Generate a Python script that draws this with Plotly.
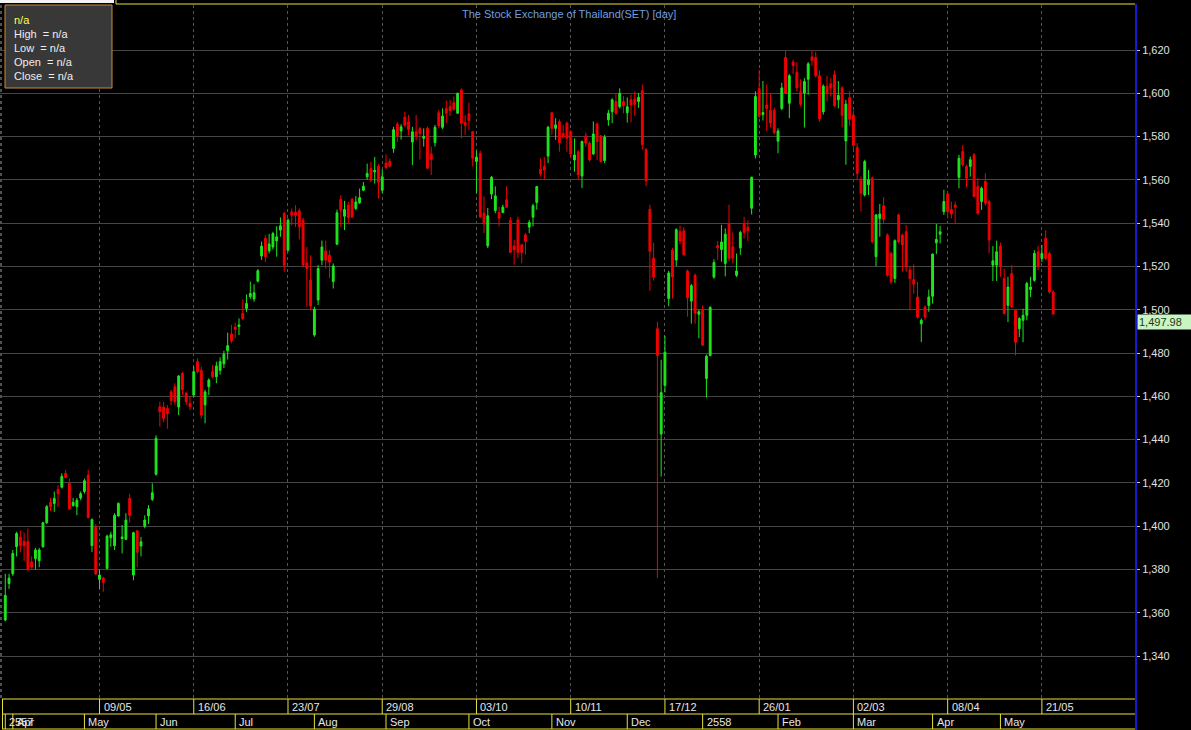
import plotly.graph_objects as go

# ---------------- data ----------------
opens = [1356.6, 1373.5, 1378, 1390.5, 1395, 1393, 1393, 1383.5, 1385, 1384,
         1390.5, 1401.6, 1411, 1410.5, 1417, 1418, 1424.4, 1419.8, 1409.5, 1409,
         1413, 1416, 1423.6, 1391, 1399.7, 1375.4, 1376, 1380.5, 1394.6, 1391,
         1404.7, 1394.3, 1393.9, 1412.8, 1377.4, 1397.9, 1390.8, 1400, 1404.7, 1412.4,
         1424, 1455.2, 1455, 1454.4, 1462, 1464.4, 1455, 1470.6, 1461.4, 1456.7,
         1460.6, 1476, 1472, 1456, 1464.4, 1471.4, 1469, 1472, 1475, 1481,
         1488.8, 1492, 1492.2, 1498.3, 1500.6, 1506, 1505, 1513.2, 1524.8, 1533,
         1527.2, 1529, 1531.8, 1536.8, 1544.5, 1527.5, 1545.2, 1545, 1545.7, 1541.4,
         1521.7, 1513.7, 1488.3, 1504.5, 1522.9, 1527.2, 1525.2, 1513, 1530.3, 1550.9,
         1543.2, 1548.3, 1550.9, 1546.8, 1549.4, 1555.2, 1561.4, 1565.2, 1563.7, 1566.3,
         1555.2, 1567.8, 1568.6, 1574.5, 1585.7, 1582.6, 1589, 1586.8, 1577.5, 1582.2,
         1583.7, 1579.2, 1583.8, 1572, 1577.2, 1591, 1584.3, 1593, 1593.8, 1595.7,
         1590.8, 1601.5, 1586.5, 1590.5, 1582.3, 1568.5, 1572.3, 1544.6, 1529.5, 1553.5,
         1545.8, 1544.9, 1544.9, 1550.8, 1541.2, 1529.5, 1541.5, 1530, 1534.6, 1538.2,
         1542.8, 1549.5, 1564.9, 1566.2, 1571, 1591, 1583.8, 1587, 1581.5, 1586.2,
         1582.3, 1569.2, 1573, 1561.8, 1580.3, 1577, 1572, 1585.8, 1580.3, 1568.9,
         1587.7, 1591.5, 1596.2, 1593.8, 1596.2, 1591, 1597, 1597.4, 1596.2, 1601.2,
         1573.9, 1546.4, 1523.8, 1491.2, 1442.6, 1465, 1505.2, 1527.5, 1523, 1536.1,
         1536.5, 1517.9, 1504, 1515.9, 1497.9, 1500, 1468.2, 1478.8, 1515.1, 1529.7,
         1527.8, 1521.4, 1539.7, 1529.1, 1515.9, 1528.6, 1539.7, 1538.1, 1546.9, 1571.5,
         1602.2, 1590.1, 1594.6, 1592.2, 1592.2, 1577.9, 1593, 1616.5, 1595.4, 1614.4,
         1609.7, 1600.6, 1600.1, 1606.5, 1616.8, 1616.5, 1608.1, 1591.4, 1603.3, 1604.4,
         1608.6, 1597, 1602.5, 1578, 1598, 1590, 1575, 1560, 1553, 1557.7,
         1560.8, 1524.5, 1542.2, 1548, 1534.5, 1526, 1514.4, 1543.8, 1534.5, 1536,
         1518.3, 1513.9, 1505.9, 1493.5, 1501.3, 1502, 1506.2, 1530.9, 1534.9, 1545.3,
         1553.5, 1546.4, 1548.4, 1561.2, 1573.1, 1566.2, 1566.2, 1571.6, 1556.9, 1550,
         1559.2, 1550, 1520.6, 1520.6, 1529.4, 1514.4, 1502, 1516.7, 1499.7, 1491.2,
         1495.1, 1497.4, 1509.3, 1513.6, 1526.8, 1523.7, 1533, 1526, 1508.2]

highs = [1378, 1378, 1389, 1397.4, 1398, 1397, 1399, 1386, 1390, 1390,
         1402, 1409.8, 1413, 1416, 1419, 1424.4, 1426, 1422, 1413, 1413,
         1416, 1422, 1426, 1403.6, 1401, 1380, 1376.6, 1396, 1397.4, 1406,
         1411, 1400.5, 1406, 1415, 1397.4, 1398, 1395, 1405, 1409.7, 1419.8,
         1442, 1457.5, 1457.5, 1456, 1462.9, 1466, 1469.8, 1471.4, 1462, 1460,
         1473.7, 1477.5, 1473.7, 1463, 1468.3, 1474.4, 1476, 1478, 1481, 1489.4,
         1493, 1494, 1496, 1504.8, 1507, 1513, 1511.8, 1518.8, 1531.5, 1534.5,
         1535, 1536, 1538.6, 1542.6, 1545.2, 1542.2, 1546.8, 1548.3, 1546.8, 1542.6,
         1529, 1525.2, 1501.4, 1520.6, 1532, 1532, 1527.5, 1521.4, 1546.3, 1552.9,
         1550.3, 1549.8, 1551.8, 1552.5, 1556, 1559, 1567.5, 1568.3, 1570.6, 1567.5,
         1564.8, 1571.8, 1569.8, 1584.5, 1586.8, 1585.7, 1591.4, 1590, 1584.5, 1590,
         1584.5, 1583.8, 1584.6, 1575.4, 1585.4, 1592.3, 1593, 1596.6, 1597, 1598.5,
         1600.3, 1602.3, 1590, 1595.7, 1582.3, 1573.5, 1573.5, 1552.3, 1547, 1561.8,
         1557, 1547.7, 1548.5, 1557, 1542.8, 1532.3, 1543, 1530.5, 1535.4, 1541.5,
         1549, 1557.2, 1570, 1570.5, 1585, 1591.5, 1588.5, 1588, 1585.4, 1587,
         1583, 1579.2, 1573.8, 1578.2, 1581.8, 1577.7, 1587, 1586.5, 1580.8, 1580.8,
         1592.3, 1597.7, 1600, 1602.3, 1598.8, 1598.1, 1599.3, 1600.9, 1600.1, 1604.1,
         1574.7, 1548.5, 1531, 1494.4, 1476.9, 1488, 1518, 1528.6, 1537.6, 1538.9,
         1538.1, 1518.6, 1511.9, 1516.7, 1500, 1502, 1479.3, 1501.6, 1523.3, 1531.8,
         1539.2, 1537.6, 1548.5, 1535.7, 1525.9, 1536.5, 1542.9, 1541.3, 1561.5, 1600.9,
         1610.8, 1605.7, 1604.1, 1599.6, 1593.3, 1583.8, 1604.9, 1620, 1608.9, 1615.5,
         1614.4, 1606.5, 1607, 1614.4, 1620, 1619.2, 1610.5, 1604.1, 1608.1, 1607,
         1610.5, 1605.7, 1603.3, 1597, 1601, 1592, 1577, 1561.5, 1569.3, 1564.6,
         1561.5, 1544.2, 1548.9, 1552, 1535.3, 1526.8, 1532.5, 1544.5, 1535.3, 1539.1,
         1519.8, 1521, 1512.9, 1495.9, 1502, 1509.3, 1526, 1539.6, 1538.7, 1555.4,
         1554.6, 1550, 1550, 1571.6, 1576.2, 1567, 1570.8, 1572.4, 1560.8, 1556.9,
         1563.1, 1550.7, 1529.4, 1531.9, 1531, 1519, 1515.2, 1520.6, 1500.5, 1496.6,
         1500.5, 1512.9, 1515.2, 1527.5, 1529.4, 1529.9, 1536.8, 1526.8, 1509]

lows = [1356, 1371, 1377, 1386, 1388, 1384, 1379, 1380, 1380, 1381,
        1390, 1401, 1407, 1406.6, 1409, 1417.4, 1422, 1407.7, 1409, 1405,
        1412, 1415, 1403.6, 1388, 1377.4, 1371, 1369.7, 1380, 1390.5, 1389,
        1404.4, 1387.4, 1393.6, 1401.6, 1375, 1381, 1386, 1399, 1401, 1411.6,
        1423.3, 1446, 1448, 1445, 1456, 1456, 1451.3, 1460.6, 1456, 1453.6,
        1459.8, 1470.6, 1449.8, 1447.5, 1460.6, 1468.3, 1466, 1470, 1473, 1477,
        1484.5, 1486.8, 1488.3, 1495.2, 1499, 1505, 1503.7, 1512.6, 1523, 1522,
        1526, 1527.8, 1524.5, 1533.7, 1517.5, 1526.8, 1539, 1538.3, 1532.5, 1520,
        1501.4, 1499.8, 1487.5, 1502.2, 1520.6, 1519, 1514.5, 1509.8, 1529.8, 1538.3,
        1536.8, 1539.5, 1542.2, 1546, 1548.8, 1554.8, 1560, 1559, 1558.3, 1551.4,
        1554, 1564.8, 1565.7, 1572.5, 1577.5, 1578.6, 1584.5, 1580.6, 1566.8, 1578.3,
        1569.4, 1575.4, 1565, 1562.3, 1575.4, 1583.8, 1583.4, 1586.2, 1589.5, 1592,
        1590.5, 1579.2, 1580.8, 1583, 1566.2, 1553.8, 1542.3, 1535.4, 1528.5, 1551.1,
        1544.6, 1538.5, 1544.6, 1547, 1526.2, 1520.8, 1523.8, 1521.5, 1525.4, 1535.4,
        1538.5, 1546.2, 1561.5, 1560, 1567.7, 1580.8, 1578.5, 1573, 1579.2, 1573,
        1570, 1563.8, 1560, 1556.2, 1575.4, 1568.5, 1571.5, 1569.2, 1568, 1567.7,
        1585, 1586.2, 1590, 1593, 1590.8, 1586.5, 1586.6, 1589.5, 1593.3, 1573.9,
        1557.2, 1508.7, 1513.5, 1376, 1422.9, 1461.8, 1501.6, 1505.2, 1520.2, 1530.2,
        1524.9, 1496.8, 1493.6, 1493.6, 1486.8, 1483.3, 1459.4, 1478.5, 1514.3, 1523,
        1522.2, 1515.4, 1522.2, 1521.4, 1515.1, 1525.4, 1532.9, 1531.8, 1544, 1569.9,
        1588.5, 1587.4, 1582.6, 1584.2, 1581, 1572.3, 1592.2, 1599.6, 1588.5, 1608.9,
        1600.9, 1593.8, 1584.2, 1599.3, 1612.8, 1607.3, 1586.9, 1590.1, 1596.2, 1598.5,
        1593.8, 1593, 1584.2, 1567, 1585, 1574, 1560, 1545.3, 1552.3, 1553,
        1530.6, 1520.1, 1533.7, 1539.9, 1515.2, 1511.8, 1512.4, 1530.6, 1517.5, 1517.5,
        1499.7, 1507.4, 1495.9, 1485, 1495.1, 1499, 1502.8, 1525.7, 1530.6, 1543.8,
        1542.2, 1542.2, 1540, 1556.1, 1566.2, 1556.6, 1561.5, 1552, 1543.8, 1546.1,
        1548, 1526, 1513.3, 1513.3, 1515.2, 1497.9, 1494.3, 1501, 1478.9, 1487.4,
        1485, 1495.1, 1505.9, 1512.9, 1518.3, 1522.1, 1522.9, 1507.4, 1497.9]

closes = [1368, 1376, 1387.4, 1396.6, 1391, 1391, 1380, 1381, 1389, 1389,
          1401.6, 1409, 1409, 1412.8, 1415, 1423, 1422.5, 1408, 1411, 1412,
          1415, 1421, 1404, 1403, 1378, 1377.4, 1374, 1395.4, 1396, 1405,
          1410.5, 1395, 1402.8, 1405, 1397, 1388, 1392.8, 1402.8, 1408, 1415.4,
          1440.6, 1452.9, 1449.8, 1452, 1458, 1457.5, 1469.4, 1463, 1457.5, 1455.2,
          1471.4, 1471.4, 1451.3, 1462, 1467.5, 1469, 1474, 1476, 1479.5, 1483.4,
          1485.7, 1491, 1493, 1495.8, 1502.9, 1507.5, 1507.8, 1518, 1529.4, 1524.5,
          1530.4, 1535.2, 1533.7, 1538.8, 1520.6, 1541.4, 1543.7, 1543.6, 1538.3, 1520.6,
          1519, 1501.7, 1500.2, 1519, 1529, 1522.9, 1522, 1520.2, 1544.8, 1546,
          1546.3, 1542.6, 1542.9, 1549.8, 1551.8, 1557, 1563, 1559.8, 1564.4, 1559,
          1561.4, 1565.7, 1566.3, 1583.2, 1580.2, 1584.5, 1585.2, 1583.2, 1582.2, 1580,
          1581.4, 1580, 1565.4, 1569.5, 1584.3, 1585, 1589.5, 1590.8, 1592, 1592.6,
          1600, 1586.2, 1585.2, 1587.4, 1570, 1570.5, 1543, 1539.7, 1543.4, 1561.2,
          1552.6, 1542.3, 1547.4, 1547.4, 1526.5, 1527.7, 1526.5, 1526.5, 1531.5, 1540.3,
          1548, 1556.9, 1562.8, 1564.6, 1584.3, 1583.8, 1585.4, 1577.2, 1579.7, 1579.2,
          1572, 1571.5, 1562.3, 1577.7, 1577, 1569.2, 1581.2, 1577.7, 1568.5, 1579.7,
          1590.8, 1597, 1590.8, 1600, 1594.2, 1593.8, 1594.6, 1594.9, 1598.1, 1576.3,
          1559.6, 1527, 1515.1, 1478.8, 1461.7, 1480.4, 1517, 1515.1, 1537, 1531.8,
          1525.4, 1505.5, 1511.1, 1498.4, 1499.1, 1483.6, 1478.5, 1501.1, 1521.8, 1528.6,
          1531.3, 1534.9, 1523.8, 1523.8, 1517.9, 1535.7, 1535.7, 1536.5, 1561.2, 1598.5,
          1589.5, 1591.1, 1593, 1586.3, 1581.8, 1582.6, 1602.5, 1600.1, 1608.1, 1612.8,
          1602.5, 1594.9, 1605.4, 1613.6, 1615.2, 1608.1, 1588.2, 1603.3, 1600.1, 1602.5,
          1594.2, 1599, 1589.8, 1595, 1588, 1576, 1563, 1553.8, 1568.5, 1560,
          1531.4, 1543.8, 1544.2, 1541.8, 1516, 1512.9, 1531.9, 1531.4, 1529.9, 1519.8,
          1514.4, 1511.8, 1496.6, 1495.1, 1496.6, 1505.9, 1525.7, 1532.5, 1536, 1550,
          1545.3, 1544.2, 1547.3, 1570, 1567, 1560.8, 1569.3, 1552.3, 1544.5, 1556.1,
          1549.2, 1532.2, 1522.6, 1526.8, 1519.8, 1498.2, 1510.5, 1501.3, 1485, 1495.9,
          1497.4, 1512.1, 1510.5, 1526, 1520.1, 1526, 1523.7, 1508.2, 1497.98]

# trading-day index of the date labels on the bottom two rows
week_labels = ["09/05", "16/06", "23/07", "29/08", "03/10", "10/11",
               "17/12", "26/01", "02/03", "08/04", "21/05"]
week_idx = [25, 50, 75, 100, 125, 150, 175, 200, 225, 250, 275]
month_labels = ["2557", "Apr", "May", "Jun", "Jul", "Aug", "Sep", "Oct",
                "Nov", "Dec", "2558", "Feb", "Mar", "Apr", "May"]
month_idx = [0, 2, 21, 40, 61, 82, 101, 123, 145, 165, 185, 205, 225, 246, 264]
price_ticks = list(range(1340, 1621, 20))

info_title = "n/a"
info_lines = ["High\u00a0 = n/a", "Low\u00a0 = n/a", "Open\u00a0 = n/a", "Close\u00a0 = n/a"]
chart_title = "The Stock Exchange of Thailand(SET) [day]"

# ---------------- figure ----------------
W, H = 1191, 730
ML, MR, MT, MB = 0, 56, 5, 32
PH = H - MT - MB  # plot height in px
PW = W - ML - MR


def py(Y):  # pixel row -> paper y
    return (H - MB - Y) / PH


def px(X):  # pixel column -> paper x
    return (X - ML) / PW


n = len(closes)
idx = list(range(n))

GREEN = "#1ee61e"
RED = "#f00000"
YEL = "#e8e03a"
FONT = "Liberation Sans, Arial, sans-serif"

fig = go.Figure(go.Candlestick(
    x=idx, open=opens, high=highs, low=lows, close=closes,
    increasing=dict(line=dict(color=GREEN, width=1), fillcolor=GREEN),
    decreasing=dict(line=dict(color=RED, width=1), fillcolor=RED),
    whiskerwidth=0, hoverinfo="skip", showlegend=False,
))

shapes = []
annotations = []

# bottom date rows
row1_top, row1_bot, row2_bot = py(699), py(714), py(729)
for yy in (row1_top, row1_bot, row2_bot):
    shapes.append(dict(type="line", xref="paper", yref="paper",
                       x0=px(2), x1=1.0, y0=yy, y1=yy,
                       line=dict(color=YEL, width=1)))
shapes.append(dict(type="line", xref="paper", yref="paper",
                   x0=px(2.5), x1=px(2.5), y0=row1_top, y1=row2_bot,
                   line=dict(color=YEL, width=1)))
for lab, i in zip(week_labels, week_idx):
    shapes.append(dict(type="line", xref="x", yref="paper", x0=i, x1=i,
                       y0=row1_top, y1=row1_bot, line=dict(color=YEL, width=1)))
    annotations.append(dict(text=lab, xref="x", yref="paper", x=i, xshift=2,
                            y=(row1_top + row1_bot) / 2, xanchor="left",
                            yanchor="middle", showarrow=False,
                            font=dict(family=FONT, size=11, color="#e6e6e6")))
for lab, i in zip(month_labels, month_idx):
    shapes.append(dict(type="line", xref="x", yref="paper", x0=i, x1=i,
                       y0=row1_bot, y1=row2_bot, line=dict(color=YEL, width=1)))
    annotations.append(dict(text=lab, xref="x", yref="paper", x=i, xshift=2,
                            y=(row1_bot + row2_bot) / 2, xanchor="left",
                            yanchor="middle", showarrow=False,
                            font=dict(family=FONT, size=11, color="#e6e6e6")))

# blue right axis line spanning full height
shapes.append(dict(type="line", xref="paper", yref="paper", x0=px(1136), x1=px(1136),
                   y0=py(4), y1=py(730), line=dict(color="#1a1ad0", width=2)))
# left gray border
shapes.append(dict(type="line", xref="paper", yref="paper", x0=px(1), x1=px(1),
                   y0=py(5), y1=py(698), line=dict(color="#505050", width=2, dash="dot")))
# top decorations (tab)
shapes.append(dict(type="rect", xref="paper", yref="paper", x0=0, x1=px(114),
                   y0=py(3), y1=py(0), fillcolor="#f2f2f2", line=dict(width=0)))
shapes.append(dict(type="line", xref="paper", yref="paper", x0=px(116), x1=1.0,
                   y0=py(4), y1=py(4), line=dict(color=YEL, width=1)))
shapes.append(dict(type="line", xref="paper", yref="paper", x0=px(116), x1=px(116),
                   y0=py(0), y1=py(4), line=dict(color=YEL, width=1)))

# info box
shapes.append(dict(type="rect", xref="paper", yref="paper", x0=px(5), x1=px(112),
                   y0=py(88), y1=py(5), fillcolor="#383838",
                   line=dict(color="#c88a3c", width=1)))
annotations.append(dict(text=info_title, xref="paper", yref="paper", x=px(12),
                        y=py(20), xanchor="left", yanchor="middle", showarrow=False,
                        font=dict(family=FONT, size=11, color="#ffff50")))
for k, t in enumerate(info_lines):
    annotations.append(dict(text=t, xref="paper", yref="paper", x=px(12),
                            y=py(33.5 + 14 * k), xanchor="left", yanchor="middle",
                            showarrow=False,
                            font=dict(family=FONT, size=11, color="#eeeeee")))

# title
annotations.append(dict(text=chart_title, xref="paper", yref="paper", x=px(569),
                        y=py(14), xanchor="center", yanchor="middle", showarrow=False,
                        font=dict(family=FONT, size=11, color="#6e9fe0")))

# last price tag
annotations.append(dict(text=f"{closes[-1]:,.2f}", xref="paper", yref="y",
                        x=px(1137), y=closes[-1], xanchor="left", yanchor="top",
                        showarrow=False, bgcolor="#c9f5c3", borderpad=1, width=52,
                        align="left",
                        font=dict(family=FONT, size=11, color="#1a3a1a")))

fig.update_layout(
    width=W, height=H,
    margin=dict(l=ML, r=MR, t=MT, b=MB, pad=0),
    paper_bgcolor="black", plot_bgcolor="black",
    showlegend=False,
    shapes=shapes, annotations=annotations,
    xaxis=dict(range=[-1.4, 299.7], tickvals=week_idx, showticklabels=False,
               ticks="", showgrid=True, gridcolor="#555555", griddash="dot",
               gridwidth=1, zeroline=False, showline=False,
               rangeslider=dict(visible=False), fixedrange=True),
    yaxis=dict(side="right", range=[1320.6, 1640.8], tickvals=price_ticks,
               tickformat=",d", ticks="outside", ticklen=4, tickcolor="#cccccc",
               showgrid=True, gridcolor="#454545", gridwidth=1, zeroline=False,
               showline=False,
               tickfont=dict(family=FONT, size=11, color="#e0e0e0"),
               fixedrange=True),
    hovermode=False,
)

fig.write_html("out.html", config={"displayModeBar": False},
               post_script="document.body.style.margin='0';document.body.style.overflow='hidden';")
